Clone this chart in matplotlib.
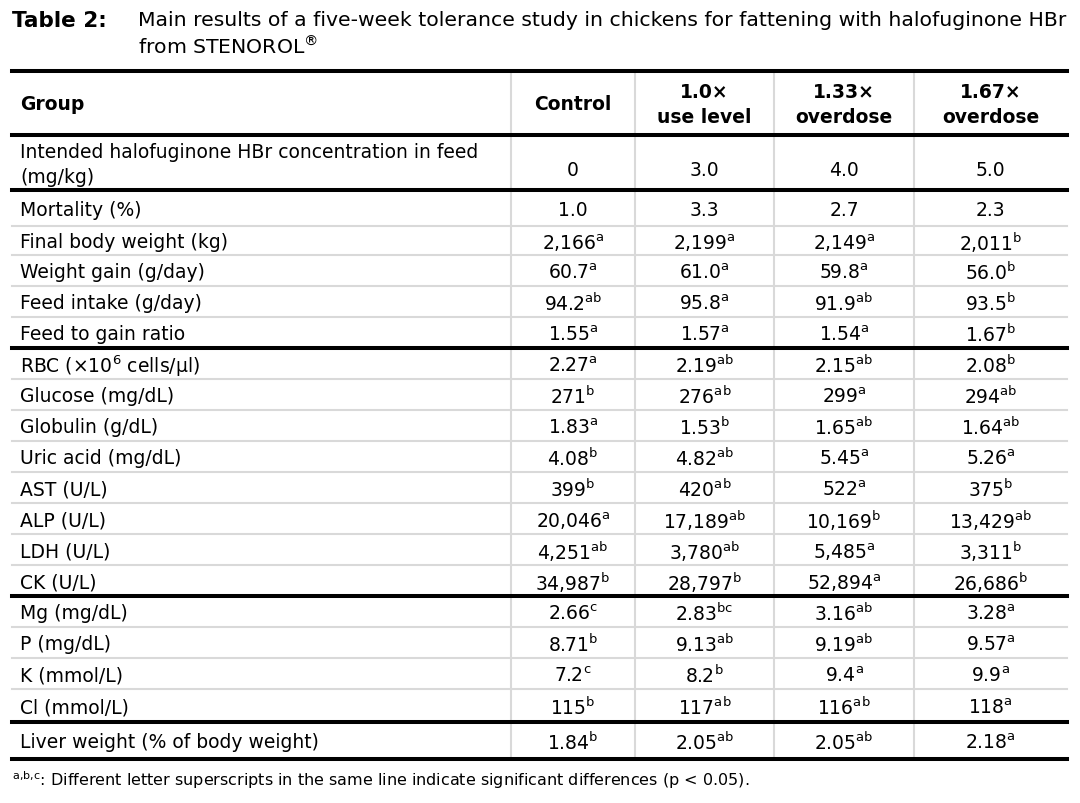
import matplotlib
matplotlib.use("Agg")
import matplotlib.pyplot as plt

plt.rcParams['font.family'] = ['DejaVu Sans']
plt.rcParams['mathtext.default'] = 'regular'

# Table content
title_label = "Table 2:"
title_lines = ["Main results of a five-week tolerance study in chickens for fattening with halofuginone HBr",
               "from STENOROL$^{®}$"]
headers = ["Group", "Control", "1.0×\nuse level", "1.33×\noverdose", "1.67×\noverdose"]

row_labels = [
    "Intended halofuginone HBr concentration in feed\n(mg/kg)",
    "Mortality (%)", "Final body weight (kg)", "Weight gain (g/day)",
    "Feed intake (g/day)", "Feed to gain ratio",
    "RBC (×10$^{6}$ cells/μl)", "Glucose (mg/dL)", "Globulin (g/dL)",
    "Uric acid (mg/dL)", "AST (U/L)", "ALP (U/L)", "LDH (U/L)", "CK (U/L)",
    "Mg (mg/dL)", "P (mg/dL)", "K (mmol/L)", "Cl (mmol/L)",
    "Liver weight (% of body weight)",
]
values = [
    ["0", "3.0", "4.0", "5.0"],
    ["1.0", "3.3", "2.7", "2.3"],
    ["2,166", "2,199", "2,149", "2,011"],
    ["60.7", "61.0", "59.8", "56.0"],
    ["94.2", "95.8", "91.9", "93.5"],
    ["1.55", "1.57", "1.54", "1.67"],
    ["2.27", "2.19", "2.15", "2.08"],
    ["271", "276", "299", "294"],
    ["1.83", "1.53", "1.65", "1.64"],
    ["4.08", "4.82", "5.45", "5.26"],
    ["399", "420", "522", "375"],
    ["20,046", "17,189", "10,169", "13,429"],
    ["4,251", "3,780", "5,485", "3,311"],
    ["34,987", "28,797", "52,894", "26,686"],
    ["2.66", "2.83", "3.16", "3.28"],
    ["8.71", "9.13", "9.19", "9.57"],
    ["7.2", "8.2", "9.4", "9.9"],
    ["115", "117", "116", "118"],
    ["1.84", "2.05", "2.05", "2.18"],
]
sups = [
    ["", "", "", ""],
    ["", "", "", ""],
    ["a", "a", "a", "b"],
    ["a", "a", "a", "b"],
    ["ab", "a", "ab", "b"],
    ["a", "a", "a", "b"],
    ["a", "ab", "ab", "b"],
    ["b", "ab", "a", "ab"],
    ["a", "b", "ab", "ab"],
    ["b", "ab", "a", "a"],
    ["b", "ab", "a", "b"],
    ["a", "ab", "b", "ab"],
    ["ab", "ab", "a", "b"],
    ["b", "b", "a", "b"],
    ["c", "bc", "ab", "a"],
    ["b", "ab", "ab", "a"],
    ["c", "b", "a", "a"],
    ["b", "ab", "ab", "a"],
    ["b", "ab", "ab", "a"],
]
section_ends = [0, 5, 13, 17, 18]
footnote = "$^{a{,}b{,}c}$: Different letter superscripts in the same line indicate significant differences (p < 0.05)."

# Layout (pixels)
col_edges = [12, 511, 635, 774, 914, 1067]
table_top = 72
header_h = 64
row_heights = [55, 36, 29, 31, 31, 31,
               31, 31, 31, 31, 31, 31, 31, 31,
               31, 31, 31, 33,
               37]
fs = 13.5
thick_lw = 2.9
thin_lw = 1.5
grid_color = "#d9d9d9"

fig = plt.figure(figsize=(10.8, 8.04), dpi=100)
ax = fig.add_axes([0, 0, 1, 1])
ax.set_xlim(0, 1080)
ax.set_ylim(804, 0)
ax.axis('off')

# Title
ax.text(12, 21, title_label, fontsize=15.5, fontweight='bold', va='center', ha='left')
ax.text(138, 21, title_lines[0], fontsize=14.7, va='center', ha='left')
ax.text(138, 47, title_lines[1], fontsize=14.7, va='center', ha='left')

# Row boundaries
bounds = [table_top, table_top + header_h]
for h in row_heights:
    bounds.append(bounds[-1] + h)
table_bottom = bounds[-1]

# Vertical grid lines
for x in col_edges[1:-1]:
    ax.plot([x, x], [table_top, table_bottom], color=grid_color, lw=thin_lw, zorder=1)

# Horizontal lines
ax.plot([col_edges[0], col_edges[-1]], [bounds[0]] * 2, color='black', lw=thick_lw, zorder=3)
ax.plot([col_edges[0], col_edges[-1]], [bounds[1]] * 2, color='black', lw=thick_lw, zorder=3)
for i in range(len(row_labels)):
    y = bounds[i + 2]
    if i in section_ends:
        ax.plot([col_edges[0], col_edges[-1]], [y, y], color='black', lw=thick_lw, zorder=3)
    else:
        ax.plot([col_edges[0], col_edges[-1]], [y, y], color=grid_color, lw=thin_lw, zorder=2)

# Header
hy = (bounds[0] + bounds[1]) / 2 + 1
ax.text(20, hy, headers[0], fontsize=fs, fontweight='bold', va='center', ha='left')
for j, h in enumerate(headers[1:]):
    cx = (col_edges[j + 1] + col_edges[j + 2]) / 2
    ax.text(cx, hy, h, fontsize=fs, fontweight='bold', va='center', ha='center',
            linespacing=1.35)

# Body
for i, lab in enumerate(row_labels):
    cy = (bounds[i + 1] + bounds[i + 2]) / 2 + 1.5
    ax.text(20, cy, lab, fontsize=fs, va='center', ha='left', linespacing=1.4)
    for j in range(4):
        cx = (col_edges[j + 1] + col_edges[j + 2]) / 2
        s = values[i][j]
        if sups[i][j]:
            s = s + "$^{" + sups[i][j] + "}$"
        ax.text(cx, cy + (5 if i == 0 else 0), s, fontsize=fs, va='center', ha='center')

# Footnote
ax.text(12, 780, footnote, fontsize=11.5, va='center', ha='left')

fig.savefig("out.png", dpi=100)
